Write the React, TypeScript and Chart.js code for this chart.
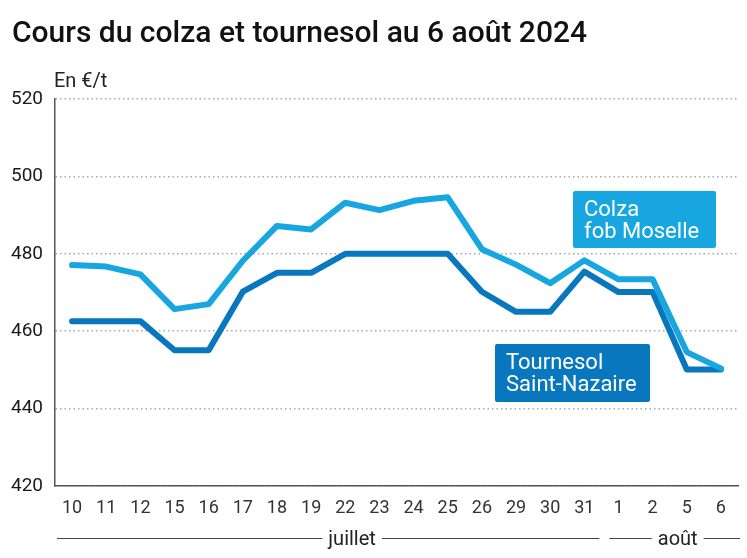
import React, { useEffect, useRef } from "react";
import { Chart, registerables } from "chart.js";

Chart.register(...registerables);

const categories = ["10", "11", "12", "15", "16", "17", "18", "19", "22", "23", "24", "25", "26", "29", "30", "31", "1", "2", "5", "6"];
const colzaValues = [477.1, 476.7, 474.7, 465.7, 467.0, 478.2, 487.2, 486.3, 493.2, 491.3, 493.7, 494.6, 481.2, 477.2, 472.4, 478.3, 473.4, 473.4, 454.6, 450.4];
const tournesolValues = [462.6, 462.6, 462.6, 455.1, 455.1, 470.2, 475.1, 475.1, 480, 480, 480, 480, 470.2, 465, 465, 475.4, 470.1, 470.1, 450.1, 450.1];
const yTicks = [420, 440, 460, 480, 500, 520];
const months = [
  { label: "juillet", first: 0, last: 15 },
  { label: "août", first: 16, last: 19 },
];

const TITLE = "Cours du colza et tournesol au 6 août 2024";
const UNIT = "En €/t";
const COLZA = "#17a6e0";
const TOURNESOL = "#0977bd";
const FONT = "Roboto";

export default function App() {
  const ref = useRef<HTMLCanvasElement | null>(null);

  useEffect(() => {
    document.body.style.margin = "0";
    const canvas = ref.current;
    if (!canvas) return;

    const overlay = {
      id: "overlay",
      afterDraw(chart: any) {
        const ctx = chart.ctx as CanvasRenderingContext2D;
        const area = chart.chartArea;
        const xs = chart.scales.x;
        ctx.save();
        // title
        ctx.fillStyle = "#111";
        ctx.font = `500 30px ${FONT}`;
        ctx.textBaseline = "alphabetic";
        ctx.textAlign = "left";
        ctx.fillText(TITLE, 12, 42);
        // unit
        ctx.font = `20px ${FONT}`;
        ctx.fillStyle = "#222";
        ctx.fillText(UNIT, 54, 87);

        // months
        const step = xs.getPixelForValue(1) - xs.getPixelForValue(0);
        ctx.font = `20px ${FONT}`;
        ctx.strokeStyle = "#444";
        ctx.lineWidth = 1;
        ctx.fillStyle = "#222";
        ctx.textBaseline = "alphabetic";
        months.forEach((m, i) => {
          const x1 = i === 0 ? area.left + 2 : xs.getPixelForValue(m.first) - step / 2 + 8;
          const x2 = i === months.length - 1 ? area.right + 2 : xs.getPixelForValue(m.last) + step / 2 - 2;
          const cx = i === 0 ? xs.getPixelForValue(8.2) : (x1 + x2) / 2 + 3;
          const tw = ctx.measureText(m.label).width;
          const y = 538.5;
          ctx.beginPath();
          ctx.moveTo(x1, y);
          ctx.lineTo(cx - tw / 2 - 6, y);
          ctx.moveTo(cx + tw / 2 + 6, y);
          ctx.lineTo(x2, y);
          ctx.stroke();
          ctx.textAlign = "center";
          ctx.fillText(m.label, cx, 545);
        });

        // series labels
        const drawBox = (x: number, y: number, w: number, h: number, color: string, lines: string[]) => {
          ctx.fillStyle = color;
          ctx.beginPath();
          (ctx as any).roundRect ? (ctx as any).roundRect(x, y, w, h, 2) : ctx.rect(x, y, w, h);
          ctx.fill();
          ctx.fillStyle = "#fff";
          ctx.font = `22px ${FONT}`;
          ctx.textAlign = "left";
          lines.forEach((t, k) => ctx.fillText(t, x + 11, y + 25 + k * 22));
        };
        drawBox(573, 191, 143, 57, COLZA, ["Colza", "fob Moselle"]);
        drawBox(495, 344, 155, 58, TOURNESOL, ["Tournesol", "Saint-Nazaire"]);
        ctx.restore();
      },
    };

    const chart = new Chart(canvas, {
      type: "line",
      data: {
        labels: categories,
        datasets: [
          {
            label: "Colza fob Moselle",
            data: colzaValues,
            borderColor: COLZA,
            backgroundColor: COLZA,
            borderWidth: 6,
            pointRadius: 0,
            tension: 0,
            borderJoinStyle: "round",
            borderCapStyle: "round",
          },
          {
            label: "Tournesol Saint-Nazaire",
            data: tournesolValues,
            borderColor: TOURNESOL,
            backgroundColor: TOURNESOL,
            borderWidth: 6,
            pointRadius: 0,
            tension: 0,
            borderJoinStyle: "round",
            borderCapStyle: "round",
          },
        ],
      },
      options: {
        animation: false,
        responsive: false,
        maintainAspectRatio: false,
        layout: { padding: { top: 99, right: 9, left: 0, bottom: 0 } },
        plugins: { legend: { display: false }, title: { display: false }, tooltip: { enabled: false } },
        scales: {
          x: {
            offset: true,
            grid: { display: false, drawTicks: false },
            border: { display: true, color: "#555", width: 1.5 },
            ticks: { font: { family: FONT, size: 18 }, color: "#333", padding: 12, maxRotation: 0, autoSkip: false },
            afterFit: (s: any) => { s.height = 72; },
          },
          y: {
            min: 420,
            max: 520,
            afterBuildTicks: (s: any) => { s.ticks = yTicks.map((v) => ({ value: v })); },
            grid: { color: "#aaa", lineWidth: 1.5, drawTicks: false },
            border: { display: true, color: "#555", width: 1.5, dash: [1.5, 3] },
            ticks: { font: { family: FONT, size: 19 }, color: "#1a1a1a", padding: 12 },
            afterFit: (s: any) => { s.width = 55; },
          },
        },
      },
      plugins: [overlay],
    });
    return () => chart.destroy();
  }, []);

  return (
    <div style={{ position: "absolute", left: 0, top: 0, width: 747, height: 558, background: "#fff" }}>
      <canvas ref={ref} width={747} height={558} style={{ width: 747, height: 558 }} />
    </div>
  );
}
